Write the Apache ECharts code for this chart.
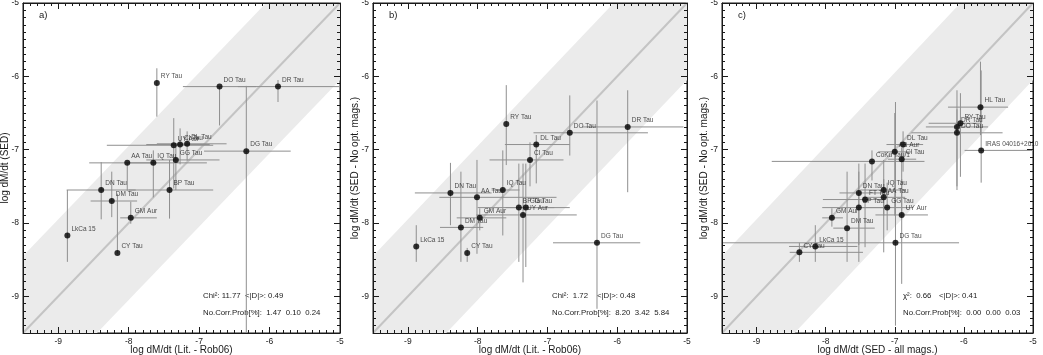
<!DOCTYPE html>
<html>
<head>
<meta charset="utf-8">
<script src="https://cdn.jsdelivr.net/npm/echarts@6/dist/echarts.min.js"></script>
<style>
  html, body { margin: 0; padding: 0; background: #fff; }
  #chart { width: 1043px; height: 355px; }
</style>
</head>
<body>
<div id="chart"></div>
<script>
// axis ticks (log dM/dt)
const xTicks = [-9, -8, -7, -6, -5];
const yTicks = [-9, -8, -7, -6, -5];
const AX_MIN = -9.5, AX_MAX = -5;
const BAND = 1.05; // half width of the grey band around y = x

// a) SED vs literature (Rob06)
const namesA = ['RY Tau', 'DO Tau', 'DR Tau', 'DG Tau', 'UY Aur', 'CI Tau', 'DL Tau', 'AA Tau', 'IQ Tau', 'GG Tau', 'DN Tau', 'BP Tau', 'DM Tau', 'GM Aur', 'LkCa 15', 'CY Tau'];
const xA   = [-7.60, -6.71, -5.88, -6.33, -7.36, -7.27, -7.17, -8.02, -7.65, -7.33, -8.39, -7.42, -8.24, -7.97, -8.87, -8.16];
const yA   = [-6.09, -6.14, -6.14, -7.02, -6.94, -6.93, -6.92, -7.18, -7.18, -7.14, -7.55, -7.55, -7.70, -7.93, -8.17, -8.41];
const xLoA = [-7.60, -7.23, -6.45, -6.93, -8.31, -7.75, -7.60, -8.56, -8.00, -7.75, -8.88, -8.00, -8.54, -8.12, -8.87, -8.16];
const xHiA = [-7.60, -6.19, -5.00, -5.70, -6.80, -6.85, -6.61, -7.60, -6.89, -6.71, -7.90, -6.80, -7.88, -7.60, -8.87, -8.16];
const yLoA = [-6.55, -6.67, -6.35, -9.60, -7.53, -7.20, -7.15, -7.56, -7.65, -7.55, -7.95, -7.94, -7.92, -8.01, -8.53, -8.42];
const yHiA = [-5.89, -6.14, -6.05, -6.13, -6.57, -6.71, -6.75, -7.18, -7.01, -6.91, -7.17, -7.14, -7.30, -7.71, -7.55, -7.60];
const statsA = ['Chi\u00b2: 11.77', '<|D|>: 0.49', 'No.Corr.Prob[%]:  1.47  0.10  0.24'];

// b) SED without optical mags vs literature
const namesB = ['RY Tau', 'DO Tau', 'DR Tau', 'DL Tau', 'CI Tau', 'IQ Tau', 'DN Tau', 'AA Tau', 'BP Tau', 'GG Tau', 'UY Aur', 'GM Aur', 'DM Tau', 'LkCa 15', 'CY Tau', 'DG Tau'];
const xB   = [-7.59, -6.68, -5.85, -7.16, -7.25, -7.64, -8.39, -8.01, -7.41, -7.31, -7.35, -7.97, -8.24, -8.88, -8.15, -6.29];
const yB   = [-6.65, -6.77, -6.69, -6.93, -7.14, -7.55, -7.59, -7.65, -7.79, -7.79, -7.89, -7.93, -8.06, -8.32, -8.41, -8.27];
const xLoB = [-7.59, -7.20, -6.50, -7.61, -7.83, -7.80, -8.90, -8.55, -8.00, -7.60, -8.02, -8.30, -8.54, -8.88, -8.15, -6.92];
const xHiB = [-7.59, -5.56, -5.05, -6.68, -6.77, -7.40, -7.80, -6.87, -6.90, -6.68, -6.58, -7.59, -7.92, -8.88, -8.15, -5.67];
const yLoB = [-7.21, -7.08, -7.58, -7.46, -7.50, -8.17, -8.03, -8.42, -8.53, -8.60, -8.81, -8.10, -8.53, -8.53, -8.53, -9.17];
const yHiB = [-6.12, -6.26, -6.19, -6.80, -6.90, -7.01, -7.18, -7.14, -7.19, -7.19, -7.19, -7.80, -7.30, -8.03, -8.34, -6.33];
const statsB = ['Chi\u00b2:  1.72', '<|D|>: 0.48', 'No.Corr.Prob[%]:  8.20  3.42  5.84'];

// c) SED without optical mags vs SED with all mags
const namesC = ['HL Tau', 'RY Tau', 'DR Tau', 'DO Tau', 'IRAS 04016+2610', 'DL Tau', 'AB Aur', 'CI Tau', 'CoKu Tau/1', 'IQ Tau', 'DN Tau', 'FT Tau', 'AA Tau', 'BP Tau', 'GG Tau', 'UY Aur', 'GM Aur', 'DM Tau', 'DG Tau', 'LkCa 15', 'CY Tau'];
const xC   = [-5.76, -6.05, -6.10, -6.10, -5.75, -6.88, -7.00, -6.90, -7.33, -7.16, -7.52, -7.43, -7.16, -7.52, -7.11, -6.90, -7.91, -7.69, -6.99, -8.15, -8.38];
const yC   = [-6.42, -6.64, -6.69, -6.77, -7.01, -6.93, -7.03, -7.13, -7.16, -7.55, -7.59, -7.68, -7.65, -7.79, -7.79, -7.89, -7.93, -8.07, -8.27, -8.32, -8.40];
const xLoC = [-6.23, -6.51, -6.55, -6.76, -5.99, -7.12, -7.24, -7.10, -8.78, -7.50, -7.80, -8.04, -7.45, -8.05, -7.52, -7.28, -8.05, -7.89, -9.60, -8.53, -8.52];
const xHiC = [-5.36, -5.77, -5.65, -5.44, -5.00, -6.59, -6.76, -6.69, -6.57, -6.85, -7.17, -7.16, -6.85, -7.10, -6.74, -6.52, -7.75, -7.29, -6.07, -7.54, -7.46];
const yLoC = [-6.80, -7.37, -7.50, -7.55, -7.45, -7.30, -7.90, -7.95, -7.42, -7.90, -8.53, -8.33, -8.40, -8.30, -8.10, -8.83, -8.05, -8.53, -9.40, -8.53, -8.53];
const yHiC = [-5.80, -6.23, -6.19, -6.45, -5.92, -6.75, -6.50, -6.97, -7.01, -7.14, -7.19, -7.19, -7.40, -7.30, -7.45, -7.40, -7.80, -7.30, -6.35, -8.03, -8.27];
const statsC = ['\u03c7\u00b2:  0.66', '<|D|>: 0.41', 'No.Corr.Prob[%]:  0.00  0.00  0.03'];

const FONT = 'Liberation Sans, Arial, Helvetica, sans-serif';
const INK = '#1a1a1a';
const TOP = 3, HEIGHT = 330;

const panels = [
  { tag: 'a)', names: namesA, x: xA, y: yA, xLo: xLoA, xHi: xHiA, yLo: yLoA, yHi: yHiA, stats: statsA,
    left: 23, width: 317, statX: [203, 245], xName: 'log dM/dt (Lit. - Rob06)', yName: 'log dM/dt (SED)' },
  { tag: 'b)', names: namesB, x: xB, y: yB, xLo: xLoB, xHi: xHiB, yLo: yLoB, yHi: yHiB, stats: statsB,
    left: 373, width: 314, statX: [552, 597], xName: 'log dM/dt (Lit. - Rob06)', yName: 'log dM/dt (SED - No opt. mags.)' },
  { tag: 'c)', names: namesC, x: xC, y: yC, xLo: xLoC, xHi: xHiC, yLo: yLoC, yHi: yHiC, stats: statsC,
    left: 722, width: 311, statX: [903, 939], xName: 'log dM/dt (SED - all mags.)', yName: 'log dM/dt (SED - No opt. mags.)' }
];

function clamp(v) { return Math.max(AX_MIN, Math.min(AX_MAX, v)); }

function bandRender(params, api) {
  const b = api.value(0);
  const pts = [
    [AX_MIN, AX_MIN], [AX_MIN + b, AX_MIN], [AX_MAX, AX_MAX - b],
    [AX_MAX, AX_MAX], [AX_MAX - b, AX_MAX], [AX_MIN, AX_MIN + b]
  ].map(p => api.coord(p));
  return { type: 'polygon', shape: { points: pts }, style: { fill: '#ebebeb' } };
}

function errRender(params, api) {
  const x = api.value(0), y = api.value(1);
  const a = api.coord([clamp(api.value(2)), y]);
  const b = api.coord([clamp(api.value(3)), y]);
  const c = api.coord([x, clamp(api.value(4))]);
  const d = api.coord([x, clamp(api.value(5))]);
  const st = { stroke: '#8f8f8f', lineWidth: 1 };
  return {
    type: 'group',
    children: [
      { type: 'line', shape: { x1: a[0], y1: a[1], x2: b[0], y2: b[1] }, style: st },
      { type: 'line', shape: { x1: c[0], y1: c[1], x2: d[0], y2: d[1] }, style: st }
    ]
  };
}

const grids = [], xAxes = [], yAxes = [], series = [], graphics = [];

panels.forEach((p, g) => {
  grids.push({ left: p.left, top: TOP, width: p.width, height: HEIGHT,
    outerBoundsMode: 'none', containLabel: false,
    show: true, borderColor: INK, borderWidth: 1, backgroundColor: 'transparent' });
  // axes above the band so the inside ticks stay visible
  const base = { type: 'value', min: AX_MIN, max: AX_MAX, gridIndex: g, z: 10, splitLine: { show: false } };
  const line = { show: true, onZero: false, lineStyle: { color: INK, width: 1 } };
  const major = (vals) => ({ show: true, inside: true, length: 6, customValues: vals, lineStyle: { color: INK } });
  const minor = () => ({ show: true, inside: true, length: 3, lineStyle: { color: INK } });
  const label = (vals, m) => ({ customValues: vals, fontSize: 8.5, color: INK, fontFamily: FONT, margin: m });
  const nameStyle = { fontSize: 10, color: INK, fontFamily: FONT };

  xAxes.push(
    Object.assign({}, base, { position: 'bottom', axisLine: line, axisTick: major(xTicks),
      axisLabel: label(xTicks, 4), name: p.xName, nameLocation: 'middle', nameGap: 12,
      nameMoveOverlap: false, nameTextStyle: nameStyle }),
    Object.assign({}, base, { position: 'top', axisLine: line, axisTick: major(xTicks), axisLabel: { show: false } }),
    Object.assign({}, base, { position: 'bottom', interval: 0.1, axisLine: { show: false },
      axisTick: minor(), axisLabel: { show: false } }),
    Object.assign({}, base, { position: 'top', interval: 0.1, axisLine: { show: false },
      axisTick: minor(), axisLabel: { show: false } })
  );
  yAxes.push(
    Object.assign({}, base, { position: 'left', axisLine: line, axisTick: major(yTicks),
      axisLabel: label(yTicks, 4), name: p.yName, nameLocation: 'middle', nameGap: 13,
      nameMoveOverlap: false, nameTextStyle: nameStyle }),
    Object.assign({}, base, { position: 'right', axisLine: line, axisTick: major(yTicks), axisLabel: { show: false } }),
    Object.assign({}, base, { position: 'left', interval: 0.1, axisLine: { show: false },
      axisTick: minor(), axisLabel: { show: false } }),
    Object.assign({}, base, { position: 'right', interval: 0.1, axisLine: { show: false },
      axisTick: minor(), axisLabel: { show: false } })
  );

  const xi = 4 * g, yi = 4 * g;
  series.push(
    { type: 'custom', xAxisIndex: xi, yAxisIndex: yi, data: [[BAND]], renderItem: bandRender, silent: true, z: 1 },
    { type: 'line', xAxisIndex: xi, yAxisIndex: yi, data: [[AX_MIN, AX_MIN], [AX_MAX, AX_MAX]],
      symbol: 'none', silent: true, z: 2, lineStyle: { color: '#c4c4c4', width: 2 } },
    { type: 'custom', xAxisIndex: xi, yAxisIndex: yi, clip: true, silent: true, z: 3,
      data: p.x.map((v, i) => [v, p.y[i], p.xLo[i], p.xHi[i], p.yLo[i], p.yHi[i]]),
      renderItem: errRender },
    { type: 'scatter', xAxisIndex: xi, yAxisIndex: yi, z: 4, symbolSize: 6,
      itemStyle: { color: '#000' },
      data: p.x.map((v, i) => [v, p.y[i], p.names[i]]),
      label: { show: true, position: [7, -7], align: 'left', verticalAlign: 'top',
        formatter: (d) => d.data[2], fontSize: 6.5, color: INK, fontFamily: FONT } }
  );

  const txt = (t, size) => ({ text: t, fontSize: size, fill: INK, fontFamily: FONT });
  graphics.push(
    { type: 'text', left: p.left + 16, top: 10, style: txt(p.tag, 9.5) },
    { type: 'text', left: p.statX[0], top: 292, style: txt(p.stats[0], 7.8) },
    { type: 'text', left: p.statX[1], top: 292, style: txt(p.stats[1], 7.8) },
    { type: 'text', left: p.statX[0], top: 309, style: txt(p.stats[2], 7.8) }
  );
});

const chart = echarts.init(document.getElementById('chart'));
chart.setOption({
  animation: false,
  grid: grids,
  xAxis: xAxes,
  yAxis: yAxes,
  series: series,
  graphic: graphics
});
</script>
</body>
</html>
